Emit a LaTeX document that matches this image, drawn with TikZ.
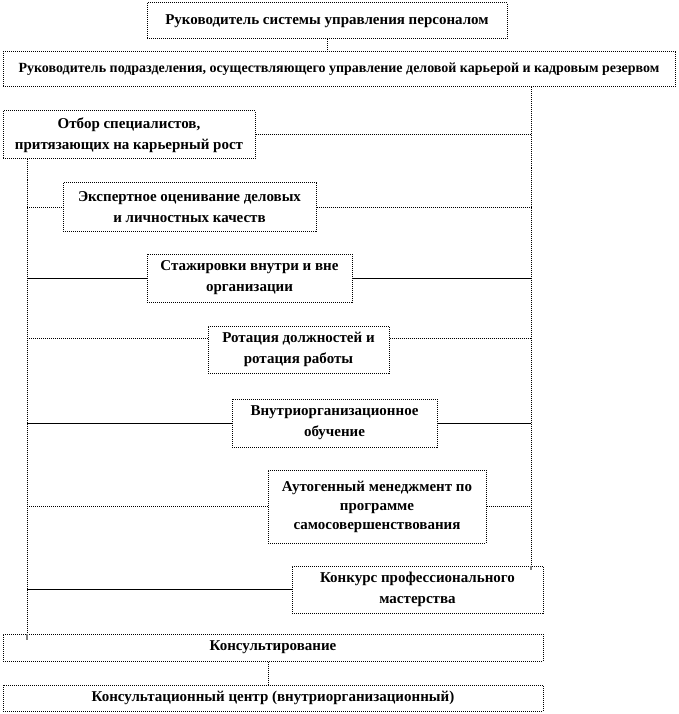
\documentclass[tikz,border=0pt]{standalone}
\usepackage{fontspec}
\setmainfont{Liberation Serif}
\begin{document}
\begin{tikzpicture}[x=1pt,y=-1pt,
  bx/.style={draw=black, line width=1pt, dash pattern=on 1pt off 1pt, fill=white,
    inner sep=0pt, align=center, font=\fontsize{15}{21}\selectfont\bfseries},
  conn/.style={draw=black, line width=1pt, dash pattern=on 1pt off 1pt},
  sconn/.style={draw=black, line width=1pt},
  stub/.style={draw=gray, line width=1.5pt}]
\useasboundingbox (0,0) rectangle (678,714);
\coordinate (Lx) at (27,0);
\coordinate (Rx) at (531,0);
\coordinate (Cx) at (268,0);
\node[bx, minimum width=360pt, minimum height=36pt] (b1) at (327,21) {Руководитель системы управления персоналом};
\node[bx, minimum width=672pt, minimum height=35pt, font=\fontsize{14}{20}\selectfont\bfseries] (b2) at (339,69.5) {Руководитель подразделения, осуществляющего управление деловой карьерой и кадровым резервом};
\node[bx, minimum width=252pt, minimum height=48pt] (b3) at (129,135) {Отбор специалистов,\\притязающих на карьерный рост};
\node[bx, minimum width=253pt, minimum height=48pt] (b4) at (189.5,207) {Экспертное оценивание деловых\\и личностных качеств};
\node[bx, minimum width=205pt, minimum height=48pt] (b5) at (249.5,278) {Стажировки внутри и вне\\организации};
\node[bx, minimum width=181pt, minimum height=47pt] (b6) at (298.5,349.5) {Ротация должностей и\\ротация работы};
\node[bx, minimum width=205pt, minimum height=48pt] (b7) at (334.5,423) {Внутриорганизационное\\обучение};
\node[bx, minimum width=218pt, minimum height=73pt, font=\fontsize{15}{19}\selectfont\bfseries] (b8) at (377,506.5) {Аутогенный менеджмент по\\программе\\самосовершенствования};
\node[bx, minimum width=251pt, minimum height=47pt] (b9) at (417.5,589.5) {Конкурс профессионального\\мастерства};
\node[bx, minimum width=540pt, minimum height=27pt] (b10) at (273,647.5) {Консультирование};
\node[bx, minimum width=540pt, minimum height=26pt] (b11) at (273,698) {Консультационный центр (внутриорганизационный)};
% connectors
\draw[conn] (b1.south) -- (b1.south |- b2.north);
\draw[conn] (b2.south -| Rx) -- (b9.north -| Rx);
\draw[stub] (b9.north -| Rx) -- ++(0,4);
\draw[conn] (b3.south -| Lx) -- (b10.north -| Lx);
\draw[stub] (b10.north -| Lx) -- ++(0,6);
\draw[conn] (b3.east) -- (b3.east -| Rx);
\draw[conn] (b4.west -| Lx) -- (b4.west);
\draw[conn] (b4.east) -- (b4.east -| Rx);
\draw[sconn] (b5.west -| Lx) -- (b5.west);
\draw[sconn] (b5.east) -- (b5.east -| Rx);
\coordinate (h6) at (27,338);
\draw[conn] (h6) -- (h6 -| b6.west);
\draw[conn] (h6 -| b6.east) -- (h6 -| Rx);
\draw[sconn] (b7.west -| Lx) -- (b7.west);
\draw[sconn] (b7.east) -- (b7.east -| Rx);
\draw[conn] (b8.west -| Lx) -- (b8.west);
\draw[conn] (b8.east) -- (b8.east -| Rx);
\draw[sconn] (b9.west -| Lx) -- (b9.west);
\draw[conn] (b10.south -| Cx) -- (b11.north -| Cx);
\end{tikzpicture}
\end{document}
